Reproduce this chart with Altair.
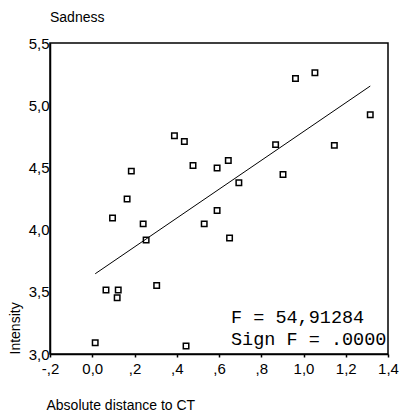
import altair as alt
import pandas as pd

# Data
distance = [0.962, 1.054, 1.316, 0.389, 0.436, 0.868, 1.146, 0.477, 0.591, 0.644,
            0.185, 0.903, 0.694, 0.165, 0.591, 0.096, 0.241, 0.530, 0.255, 0.650,
            0.065, 0.123, 0.118, 0.305, 0.014, 0.444]
intensity = [5.215, 5.260, 4.923, 4.755, 4.709, 4.683, 4.677, 4.515, 4.496, 4.555,
             4.470, 4.443, 4.376, 4.246, 4.153, 4.094, 4.046, 4.046, 3.916, 3.932,
             3.514, 3.514, 3.453, 3.551, 3.091, 3.064]

fit_x = [0.014, 1.316]
fit_y = [3.645, 5.154]

x_ticks = [-0.2, 0.0, 0.2, 0.4, 0.6, 0.8, 1.0, 1.2, 1.4]
y_ticks = [3.0, 3.5, 4.0, 4.5, 5.0, 5.5]

annotation = ["F = 54,91284", "Sign F = .0000"]

pts = pd.DataFrame({"x": distance, "y": intensity})
fit = pd.DataFrame({"x": fit_x, "y": fit_y})

FONT = "Liberation Sans"

x_label_expr = ("abs(datum.value) < 1e-9 ? '0,0' : "
                "replace(replace(replace(format(datum.value, '.1f'), '\u2212', '-'), '0.', '.'), '.', ',')")
y_label_expr = "replace(format(datum.value, '.1f'), '.', ',')"

xscale = alt.Scale(domain=[-0.2, 1.4], nice=False, zero=False)
yscale = alt.Scale(domain=[3.0, 5.5], nice=False, zero=False)

xaxis = alt.Axis(values=x_ticks, labelExpr=x_label_expr, grid=False,
                 labelFont=FONT, labelFontSize=15, labelColor="black",
                 labelFlush=False, labelOverlap=False, labelPadding=4,
                 tickColor="black", tickSize=3, tickWidth=1.5,
                 domainColor="black", domainWidth=1.5,
                 title="Absolute distance to CT", titleFont=FONT, titleFontSize=14,
                 titleFontWeight="normal", titleColor="black",
                 titleX=-4, titleY=44, titleAlign="left", titleBaseline="top")
yaxis = alt.Axis(values=y_ticks, labelExpr=y_label_expr, grid=False,
                 labelFont=FONT, labelFontSize=15, labelColor="black",
                 labelPadding=1, labelOverlap=False, ticks=False,
                 domainColor="black", domainWidth=1.5,
                 title="Intensity", titleFont=FONT, titleFontSize=14,
                 titleFontWeight="normal", titleColor="black",
                 titleAnchor="start", titlePadding=6)

points = alt.Chart(pts).mark_point(shape="square", filled=False, size=30,
                                   strokeWidth=1.5, color="black", opacity=1).encode(
    x=alt.X("x:Q", scale=xscale, axis=xaxis),
    y=alt.Y("y:Q", scale=yscale, axis=yaxis),
)

line = alt.Chart(fit).mark_line(color="black", strokeWidth=1).encode(
    x=alt.X("x:Q", scale=xscale),
    y=alt.Y("y:Q", scale=yscale),
)

txt1 = alt.Chart(pd.DataFrame({"t": [annotation[0]]})).mark_text(
    align="left", baseline="alphabetic", font="Liberation Mono", fontSize=18.5,
    color="black").encode(x=alt.value(181), y=alt.value(280), text="t:N")
txt2 = alt.Chart(pd.DataFrame({"t": [annotation[1]]})).mark_text(
    align="left", baseline="alphabetic", font="Liberation Mono", fontSize=18.5,
    color="black").encode(x=alt.value(181), y=alt.value(302), text="t:N")

chart = alt.layer(points, line, txt1, txt2).properties(
    width=391, height=404,
    autosize=alt.AutoSizeParams(type="fit", contains="padding"),
    title=alt.TitleParams("Sadness", anchor="start", frame="group", font=FONT,
                          fontSize=14, fontWeight="normal", color="black", offset=11),
    padding={"left": 0, "top": 3, "right": 0, "bottom": 0},
    background="white",
).configure_view(stroke="black", strokeWidth=1.5)

chart.save("out.html", embed_options={"renderer": "svg", "actions": False})
